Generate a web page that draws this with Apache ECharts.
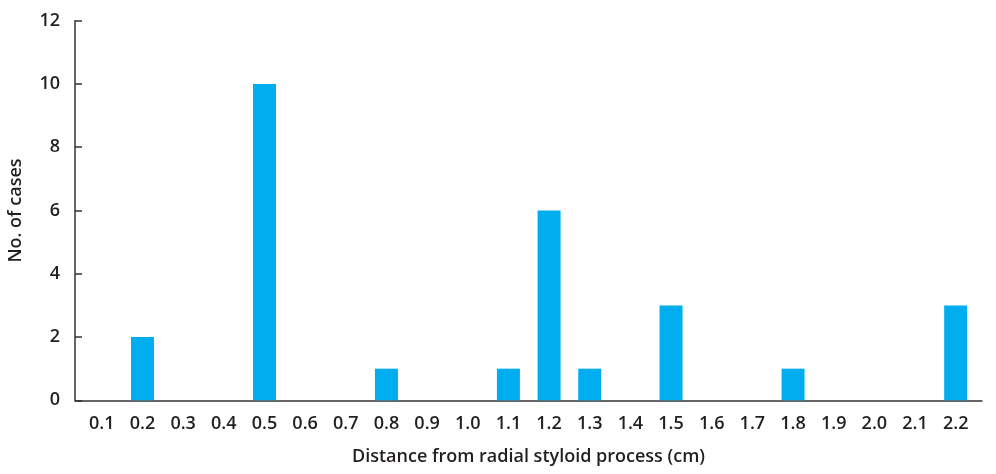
<!DOCTYPE html>
<html><head><meta charset="utf-8">
<script src="https://cdn.jsdelivr.net/npm/echarts@6/dist/echarts.min.js"></script>
<style>html,body{margin:0;padding:0;background:#fff}#c{width:996px;height:474px}</style>
</head><body><div id="c"></div>
<script>
const categories = ['0.1','0.2','0.3','0.4','0.5','0.6','0.7','0.8','0.9','1.0','1.1','1.2','1.3','1.4','1.5','1.6','1.7','1.8','1.9','2.0','2.1','2.2'];
const cases = [0,2,0,0,10,0,0,1,0,0,1,6,1,0,3,0,0,1,0,0,0,3];
const yTicks = {min:0, max:12, interval:2};
const xTitle = 'Distance from radial styloid process (cm)';
const yTitle = 'No. of cases';

const font = '"Open Sans", "Noto Sans", sans-serif';
const txt = '#231f20';
const chart = echarts.init(document.getElementById('c'));
chart.setOption({
  animation:false,
  grid:[
    {left:75, right:14, top:20.7, bottom:73.7, outerBoundsMode:'none', containLabel:false},
    {left:81.5, right:20, top:20.7, bottom:73.7, outerBoundsMode:'none', containLabel:false}
  ],
  xAxis:[
    {gridIndex:0, type:'value', min:0, max:1, axisLabel:{show:false}, axisTick:{show:false}, splitLine:{show:false},
     axisLine:{lineStyle:{color:'#333', width:1.5}},
     name:xTitle, nameLocation:'middle', nameGap:48,
     nameTextStyle:{fontFamily:font, fontSize:18, fontWeight:600, color:txt}},
    {gridIndex:1, type:'category', data:categories, axisLine:{show:false}, axisTick:{show:false},
     axisLabel:{fontFamily:font, fontSize:18, fontWeight:600, color:txt, margin:15, interval:0}}
  ],
  yAxis:[
    {gridIndex:0, type:'value', min:yTicks.min, max:yTicks.max, interval:yTicks.interval,
     splitLine:{show:false},
     axisLine:{show:true, lineStyle:{color:'#333', width:1.5}},
     axisTick:{show:true, inside:true, length:7, lineStyle:{color:'#333', width:1.5}},
     axisLabel:{fontFamily:font, fontSize:18, fontWeight:600, color:txt, margin:15},
     name:yTitle, nameLocation:'middle', nameGap:50, nameRotate:90,
     nameTextStyle:{fontFamily:font, fontSize:18, fontWeight:600, color:txt}},
    {gridIndex:1, type:'value', min:yTicks.min, max:yTicks.max, interval:yTicks.interval, show:false}
  ],
  series:[{
    type:'bar', xAxisIndex:1, yAxisIndex:1, data:cases, barWidth:23,
    itemStyle:{color:'#00aeef'}
  }]
});
</script></body></html>
